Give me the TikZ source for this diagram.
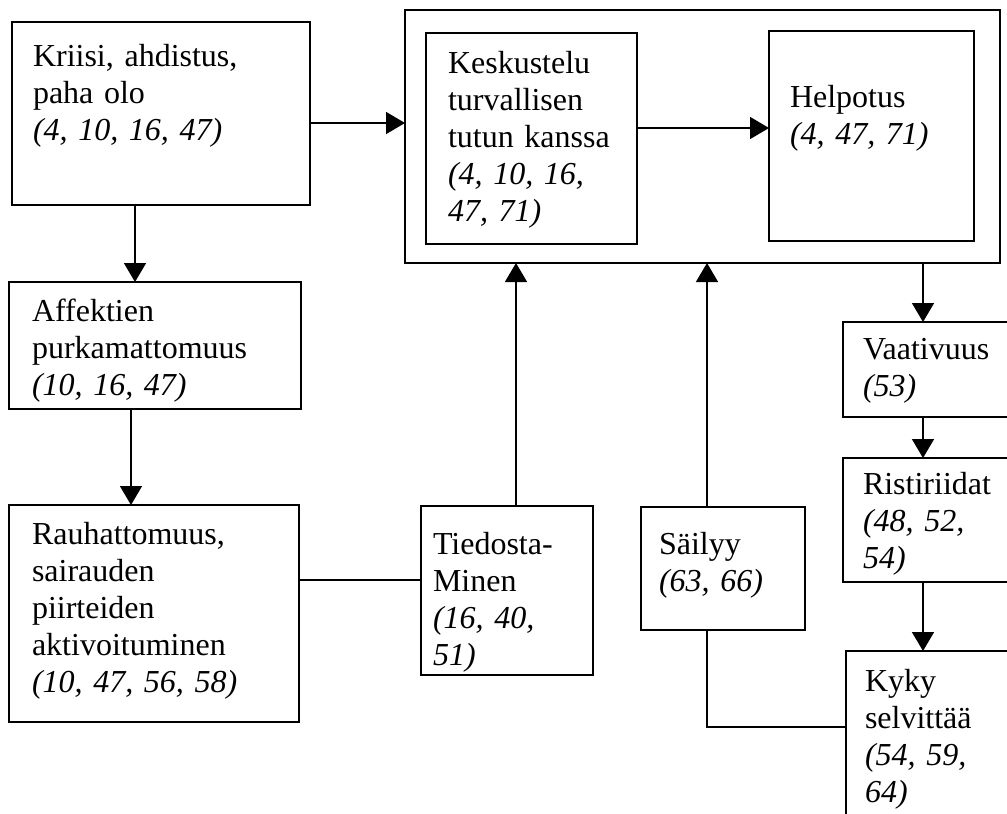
\documentclass[tikz,border=0pt]{standalone}
\usepackage{fontspec}
\setmainfont{Liberation Serif}
\usetikzlibrary{arrows.meta}
\newcommand\diagfont{\fontsize{32}{36.8}\selectfont}
\begin{document}
\begin{tikzpicture}[x=1pt,y=-1pt,
  box/.style={draw, line width=1.6pt, inner sep=0pt, outer sep=0pt, anchor=north west},
  txt/.style={inner sep=0pt, outer sep=0pt, anchor=north west, font=\diagfont, align=left, text width=300pt},
  arr/.style={line width=1.6pt, -{Triangle[length=19pt,width=22pt]}},
  con/.style={line width=1.6pt}]
\useasboundingbox (0,0) rectangle (1007,814);
\fill[white] (0,0) rectangle (1007,814);
\clip (0,0) rectangle (1007,814);

% boxes
\node[box, minimum width=298pt, minimum height=183pt] (kriisi) at (12,22) {};
\node[box, minimum width=292pt, minimum height=127pt] (affekt) at (9,282) {};
\node[box, minimum width=290pt, minimum height=217pt] (rauha) at (9,505) {};
\node[box, minimum width=595pt, minimum height=253pt] (outer) at (405,10) {};
\node[box, minimum width=211pt, minimum height=211pt] (kesk) at (426,33) {};
\node[box, minimum width=205pt, minimum height=210pt] (helpo) at (769,31) {};
\node[box, minimum width=172pt, minimum height=169pt] (tied) at (421,506) {};
\node[box, minimum width=164pt, minimum height=123pt] (sail) at (641,507) {};
\node[box, minimum width=190pt, minimum height=95pt] (vaat) at (843,322) {};
\node[box, minimum width=190pt, minimum height=124pt] (risti) at (843,458) {};
\node[box, minimum width=190pt, minimum height=200pt] (kyky) at (846,651) {};

% texts
\node[txt] (kriisiT) at (33,41.2) {\strut Kriisi, ahdistus,\\paha olo\\\textit{(4, 10, 16, 47)}};
\node[txt] (affektT) at (32,296.2) {\strut Affektien\\purkamattomuus\\\textit{(10, 16, 47)}};
\node[txt] (rauhaT) at (32,519.2) {\strut Rauhattomuus,\\sairauden\\piirteiden\\aktivoituminen\\\textit{(10, 47, 56, 58)}};
\node[txt] (keskT) at (448,48.2) {\strut Keskustelu\\turvallisen\\tutun kanssa\\\textit{(4, 10, 16,}\\\textit{47, 71)}};
\node[txt] (helpoT) at (790,82.2) {\strut Helpotus\\\textit{(4, 47, 71)}};
\node[txt] (tiedT) at (433,529.2) {\strut Tiedosta-\\Minen\\\textit{(16, 40,}\\\textit{51)}};
\node[txt] (sailT) at (659,529.2) {\strut Säilyy\\\textit{(63, 66)}};
\node[txt] (vaatT) at (863,334.2) {\strut Vaativuus\\\textit{(53)}};
\node[txt] (ristiT) at (863,469.2) {\strut Ristiriidat\\\textit{(48, 52,}\\\textit{54)}};
\node[txt] (kykyT) at (865,666.2) {\strut Kyky\\selvittää\\\textit{(54, 59,}\\\textit{64)}};

% connectors
\draw[arr] (kriisi.east |- 0,123) -- (outer.west |- 0,123);
\draw[arr] (kriisi.south -| 135,0) -- (affekt.north -| 135,0);
\draw[arr] (affekt.south -| 131,0) -- (rauha.north -| 131,0);
\draw[con] (rauha.east |- 0,580) -- (tied.west |- 0,580);
\draw[arr] (tied.north -| 516,0) -- (outer.south -| 516,0);
\draw[arr] (sail.north -| 707,0) -- (outer.south -| 707,0);
\draw[arr] (kesk.east |- 0,128) -- (helpo.west |- 0,128);
\draw[arr] (outer.south -| 923,0) -- (vaat.north -| 923,0);
\draw[arr] (vaat.south -| 923,0) -- (risti.north -| 923,0);
\draw[arr] (risti.south -| 923,0) -- (kyky.north -| 923,0);
\draw[con] (sail.south -| 707,0) |- (kyky.west |- 0,727);
\end{tikzpicture}
\end{document}
